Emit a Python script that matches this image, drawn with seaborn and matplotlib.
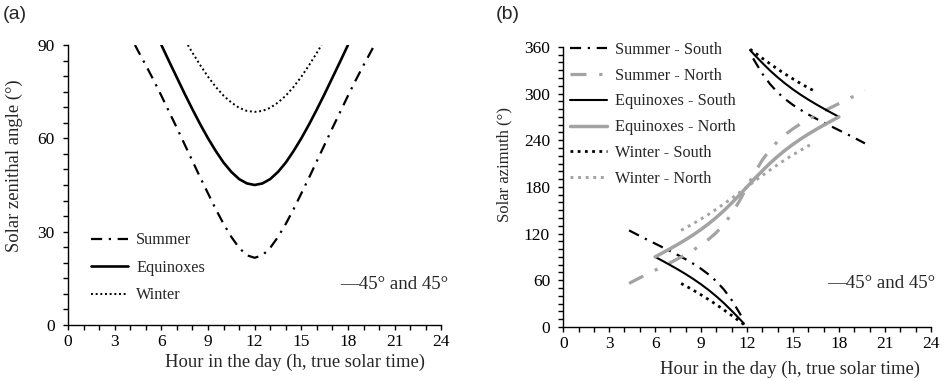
import matplotlib
matplotlib.use("Agg")
import matplotlib.pyplot as plt
import seaborn as sns

# ---------------- data: panel (a) solar zenithal angle ----------------
summer_hour = [4.3, 4.5, 5, 5.5, 6, 6.5, 7, 7.5, 8, 8.5, 9, 9.5, 10, 10.5, 11, 11.5, 12,
               12.5, 13, 13.5, 14, 14.5, 15, 15.5, 16, 16.5, 17, 17.5, 18, 18.5, 19, 19.5, 19.7]
summer_zen = [90, 88.1, 83.5, 78.7, 73.7, 68.5, 63.3, 58.0, 52.7, 47.4, 42.3, 37.2, 32.5, 28.3, 24.8, 22.4, 21.6,
              22.4, 24.8, 28.3, 32.5, 37.2, 42.3, 47.4, 52.7, 58.0, 63.3, 68.5, 73.7, 78.7, 83.5, 88.1, 90]

equinox_hour = [6, 6.5, 7, 7.5, 8, 8.5, 9, 9.5, 10, 10.5, 11, 11.5, 12,
                12.5, 13, 13.5, 14, 14.5, 15, 15.5, 16, 16.5, 17, 17.5, 18]
equinox_zen = [90, 84.7, 79.5, 74.3, 69.3, 64.5, 60.0, 55.9, 52.2, 49.2, 46.9, 45.5, 45.0,
               45.5, 46.9, 49.2, 52.2, 55.9, 60.0, 64.5, 69.3, 74.3, 79.5, 84.7, 90]

winter_hour = [7.7, 8, 8.5, 9, 9.5, 10, 10.5, 11, 11.5, 12, 12.5, 13, 13.5, 14, 14.5, 15, 15.5, 16, 16.3]
winter_zen = [90, 87.5, 83.5, 79.8, 76.5, 73.7, 71.5, 69.8, 68.8, 68.5, 68.8, 69.8, 71.5, 73.7, 76.5, 79.8, 83.5, 87.5, 90]

# ---------------- data: panel (b) solar azimuth ----------------
sum_s_am_hour = [4.3, 4.5, 5, 5.5, 6, 6.5, 7, 7.5, 8, 8.5, 9, 9.5, 10, 10.5, 11, 11.5, 11.6]
sum_s_am_az = [124.1, 122.0, 116.9, 111.9, 107.1, 102.2, 97.3, 92.2, 86.9, 81.1, 74.7, 67.3, 58.6, 47.8, 34.5, 18.3, 14.8]
sum_s_pm_hour = [12.4, 12.5, 13, 13.5, 14, 14.5, 15, 15.5, 16, 16.5, 17, 17.5, 18, 18.5, 19, 19.5, 19.7]
sum_s_pm_az = [345.2, 341.7, 325.5, 312.2, 301.4, 292.7, 285.3, 279.0, 273.1, 267.8, 262.7, 257.8, 252.9, 248.1, 243.1, 238.0, 235.9]

sum_n_hour = [4.3, 4.5, 5, 5.5, 6, 6.5, 7, 7.5, 8, 8.5, 9, 9.5, 10, 10.5, 11, 11.5, 12,
              12.5, 13, 13.5, 14, 14.5, 15, 15.5, 16, 16.5, 17, 17.5, 18, 18.5, 19, 19.5, 19.7]
sum_n_az = [55.9, 58.0, 63.1, 68.1, 72.9, 77.8, 82.7, 87.8, 93.1, 98.9, 105.3, 112.7, 121.4, 132.2, 145.5, 161.7, 180,
            198.3, 214.5, 227.8, 238.6, 247.3, 254.7, 261.1, 266.9, 272.2, 277.3, 282.2, 287.1, 291.9, 296.9, 302.0, 304.1]

eq_s_am_hour = [6, 6.5, 7, 7.5, 8, 8.5, 9, 9.5, 10, 10.5, 11, 11.5, 11.8]
eq_s_am_az = [90, 84.7, 79.3, 73.7, 67.8, 61.5, 54.7, 47.3, 39.2, 30.4, 20.7, 10.6, 4.2]
eq_s_pm_hour = [12.2, 12.5, 13, 13.5, 14, 14.5, 15, 15.5, 16, 16.5, 17, 17.5, 18]
eq_s_pm_az = [355.8, 349.4, 339.3, 329.6, 320.8, 312.7, 305.3, 298.5, 292.2, 286.3, 280.7, 275.3, 270]

eq_n_hour = [6, 6.5, 7, 7.5, 8, 8.5, 9, 9.5, 10, 10.5, 11, 11.5, 12,
             12.5, 13, 13.5, 14, 14.5, 15, 15.5, 16, 16.5, 17, 17.5, 18]
eq_n_az = [90, 95.3, 100.7, 106.3, 112.2, 118.5, 125.3, 132.7, 140.8, 149.6, 159.3, 169.4, 180,
           190.6, 200.7, 210.4, 219.2, 227.3, 234.7, 241.5, 247.8, 253.7, 259.3, 264.7, 270]

win_s_am_hour = [7.7, 8, 8.5, 9, 9.5, 10, 10.5, 11, 11.5, 11.8]
win_s_am_az = [55.8, 52.7, 47.1, 41.2, 35.1, 28.6, 21.7, 14.7, 7.4, 3.0]
win_s_pm_hour = [12.2, 12.5, 13, 13.5, 14, 14.5, 15, 15.5, 16, 16.3]
win_s_pm_az = [357.0, 352.6, 345.3, 338.3, 331.4, 324.9, 318.8, 312.9, 307.3, 304.2]

win_n_hour = [7.7, 8, 8.5, 9, 9.5, 10, 10.5, 11, 11.5, 12, 12.5, 13, 13.5, 14, 14.5, 15, 15.5, 16, 16.3]
win_n_az = [124.2, 127.3, 132.9, 138.8, 144.9, 151.4, 158.3, 165.3, 172.6, 180,
            187.4, 194.7, 201.7, 208.6, 215.1, 221.2, 227.1, 232.7, 235.8]

x_ticks = [0, 3, 6, 9, 12, 15, 18, 21, 24]
zen_ticks = [0, 30, 60, 90]
az_ticks = [0, 60, 120, 180, 240, 300, 360]
xlabel = "Hour in the day (h, true solar time)"
note = "\u201445\u00b0 and 45\u00b0"

# ---------------- style ----------------
sns.set_style("ticks")
SERIF = ["Liberation Serif", "DejaVu Serif"]
plt.rcParams["font.family"] = SERIF
plt.rcParams["xtick.direction"] = "out"
plt.rcParams["ytick.direction"] = "out"

BLACK = "#000000"
GREY = "#a3a3a3"
DASHDOT = (0, (5, 3, 1, 3))
DOT_A = (0, (1, 1.4))
DOT_B = (0, (1, 1.6))

fig = plt.figure(figsize=(9.45, 3.81), dpi=100)
ax1 = fig.add_axes([0.072, 0.147, 0.395, 0.735])
ax2 = fig.add_axes([0.596, 0.142, 0.389, 0.735])


def line(ax, x, y, color, lw, ls, label=None):
    kw = dict(x=x, y=y, ax=ax, color=color, linewidth=lw, linestyle=ls, estimator=None)
    if label is not None:
        kw["label"] = label
    sns.lineplot(**kw)


# panel (a)
line(ax1, summer_hour, summer_zen, BLACK, 1.6, DASHDOT, "Summer")
line(ax1, equinox_hour, equinox_zen, BLACK, 1.9, "-", "Equinoxes")
line(ax1, winter_hour, winter_zen, BLACK, 1.4, DOT_A, "Winter")

# panel (b)
line(ax2, sum_s_am_hour, sum_s_am_az, BLACK, 1.6, DASHDOT, "Summer - South")
line(ax2, sum_s_pm_hour, sum_s_pm_az, BLACK, 1.6, DASHDOT)
line(ax2, sum_n_hour, sum_n_az, GREY, 2.3, (0, (5, 4, 1, 4)), "Summer - North")
line(ax2, eq_s_am_hour, eq_s_am_az, BLACK, 1.5, "-", "Equinoxes - South")
line(ax2, eq_s_pm_hour, eq_s_pm_az, BLACK, 1.5, "-")
line(ax2, eq_n_hour, eq_n_az, GREY, 2.5, "-", "Equinoxes - North")
line(ax2, win_s_am_hour, win_s_am_az, BLACK, 2.0, DOT_B, "Winter - South")
line(ax2, win_s_pm_hour, win_s_pm_az, BLACK, 2.0, DOT_B)
line(ax2, win_n_hour, win_n_az, GREY, 2.1, DOT_B, "Winter - North")

for ax in (ax1, ax2):
    for sp in ("top", "right"):
        ax.spines[sp].set_visible(False)
    for sp in ("left", "bottom"):
        ax.spines[sp].set_color("black")
        ax.spines[sp].set_linewidth(1.0)
    ax.set_xlim(0, 24)
    ax.set_xticks(x_ticks)
    ax.set_xticks(range(0, 25), minor=True)
    ax.tick_params(axis="both", which="both", colors="black", length=3.5, width=1.0, labelsize=12.5)
    ax.tick_params(axis="x", which="both", pad=3)
    ax.tick_params(axis="y", which="both", pad=6)
    ax.set_xlabel(xlabel, fontsize=13.4, family=SERIF)

ax1.set_ylim(0, 90)
ax1.set_yticks(zen_ticks)
ax1.set_yticks(range(0, 91, 5), minor=True)
ax1.set_ylabel("Solar zenithal angle (\u00b0)", fontsize=13.4, family=SERIF)
ax1.xaxis.set_label_coords(0.609, -0.103)
ax1.yaxis.set_label_coords(-0.121, 0.568)

ax2.set_ylim(0, 360)
ax2.set_yticks(az_ticks)
ax2.set_yticks(range(0, 361, 10), minor=True)
ax2.set_ylabel("Solar azimuth (\u00b0)", fontsize=12.0, family=SERIF)
ax2.xaxis.set_label_coords(0.617, -0.122)
ax2.yaxis.set_label_coords(-0.139, 0.579)

ax1.legend(loc="center left", bbox_to_anchor=(0.043, 0.204), frameon=False, fontsize=11.7,
           handlelength=2.3, handletextpad=0.5, labelspacing=0.7, borderaxespad=0)
ax2.legend(loc="center left", bbox_to_anchor=(0.0, 0.759), frameon=False, fontsize=11.7,
           handlelength=2.3, handletextpad=0.5, labelspacing=0.6, borderaxespad=0)

ax1.text(1.019, 0.143, note, transform=ax1.transAxes, ha="right", va="center", fontsize=13.6, family=SERIF)
ax2.text(1.011, 0.154, note, transform=ax2.transAxes, ha="right", va="center", fontsize=13.6, family=SERIF)

fig.text(0.003, 0.963, "(a)", family=["Liberation Sans", "DejaVu Sans"], fontsize=14, va="center", ha="left")
fig.text(0.525, 0.963, "(b)", family=["Liberation Sans", "DejaVu Sans"], fontsize=14, va="center", ha="left")

fig.savefig("out.png", dpi=100)
